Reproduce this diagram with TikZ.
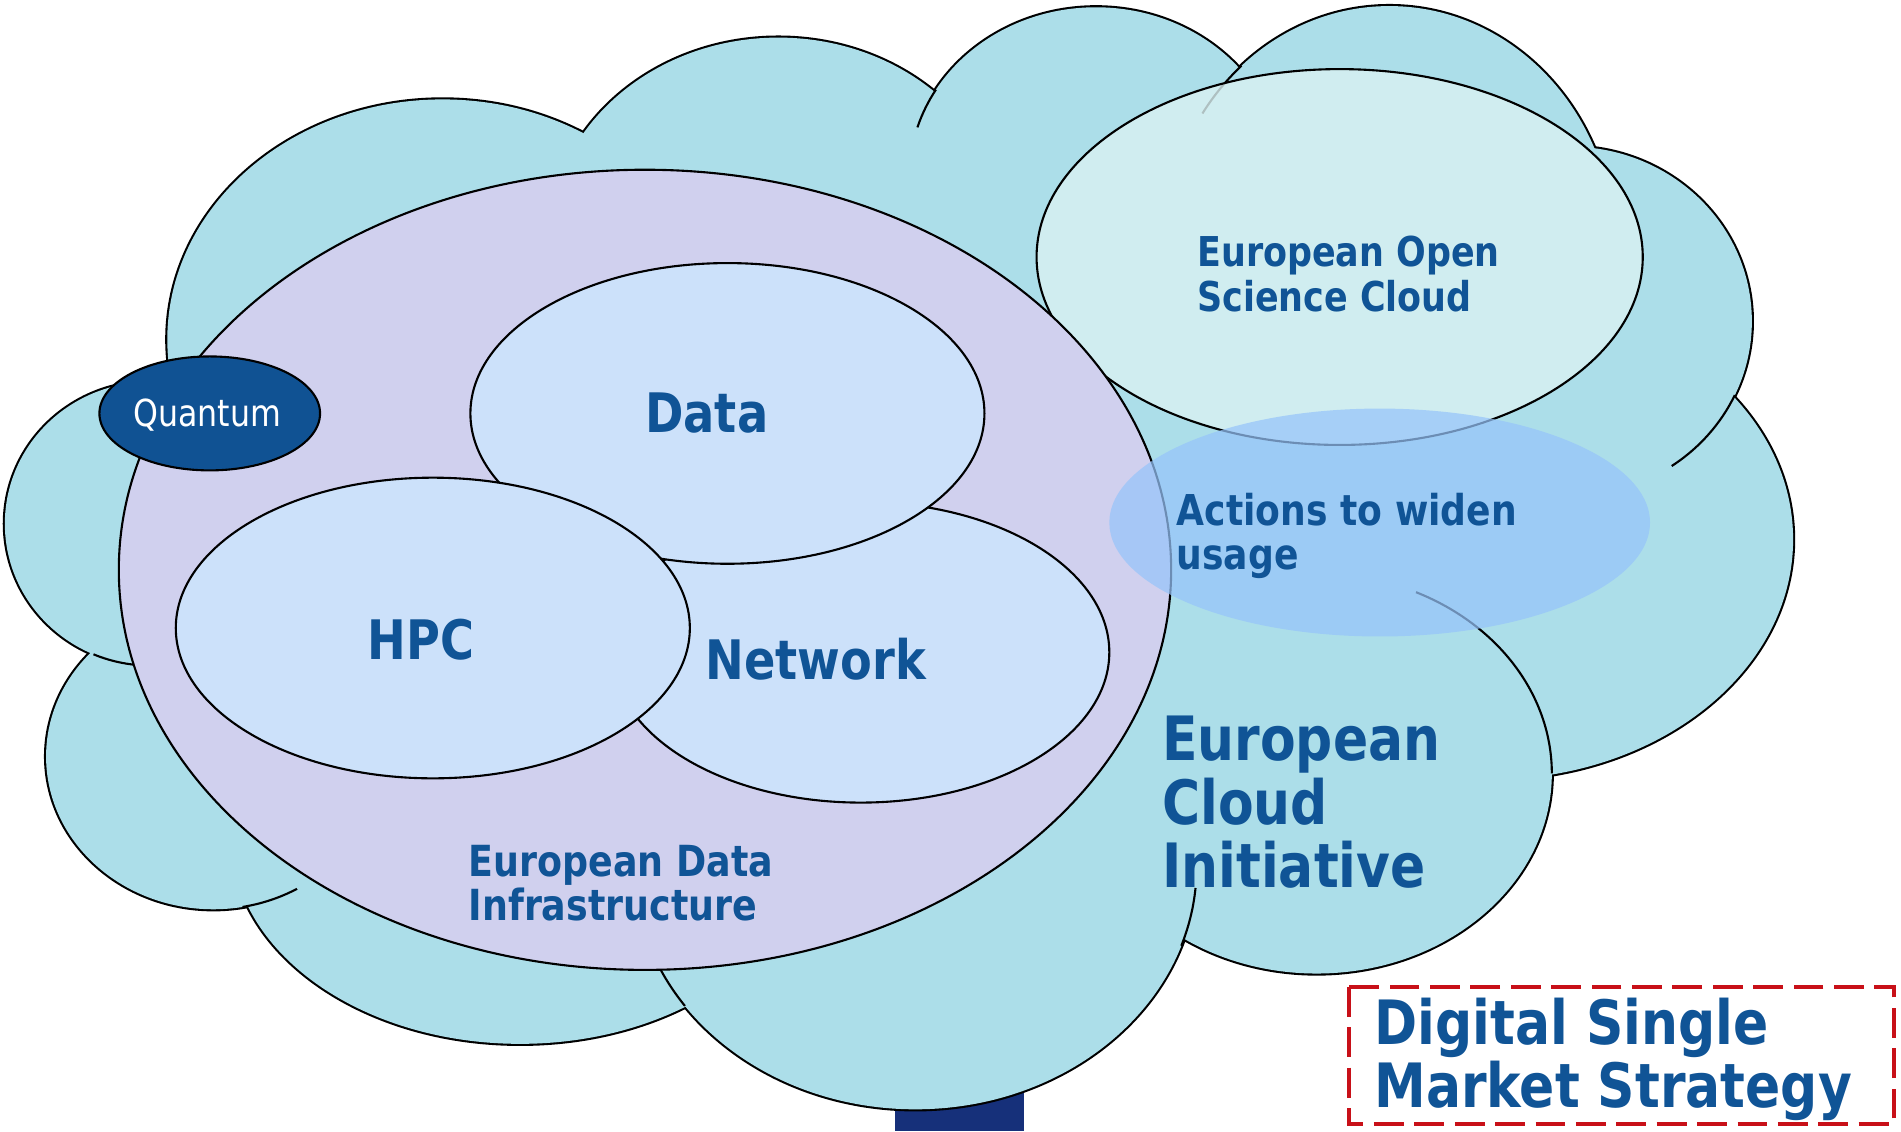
\documentclass[tikz,border=0pt]{standalone}
\usepackage{fontspec}
\setmainfont{DejaVu Sans}
\newfontfamily\tahoma[FakeStretch=0.85]{DejaVu Sans}
\usepackage{tikz}
\definecolor{cloudfill}{RGB}{172,222,233}
\definecolor{edifill}{RGB}{208,208,238}
\definecolor{partfill}{RGB}{204,225,250}
\definecolor{quantumfill}{RGB}{16,82,147}
\definecolor{eoscfill}{RGB}{218,241,242}
\definecolor{actionfill}{RGB}{150,196,250}
\definecolor{textblue}{RGB}{16,84,150}
\definecolor{navy}{RGB}{22,48,122}
\definecolor{dsmred}{RGB}{200,16,24}
\tikzset{
  rim/.style={draw=black, line width=0.6pt},
  part/.style={rim, fill=partfill},
  blocktext/.style={inner sep=0pt, anchor=north west, align=left, text=textblue},
  bigword/.style={inner sep=0pt, text=textblue, font=\tahoma\bfseries\fontsize{15.5}{18}\selectfont},
}

\begin{document}
\begin{tikzpicture}[x=0.012124cm, y=-0.012124cm]
    \useasboundingbox (0,0) rectangle (1568,933);

    \fill[navy] (738,880) rectangle (845,933);

    % cloud: outlines first, then the fill covers the inner parts
    \foreach \cx/\cy/\rx/\ry in {124/432/120/117, 176/624/138/126, 429/691/238/170,
        755/715/232/200, 1086/638/194/165, 1229/445/250/198, 1295/265/150/144,
        1146/206/186/201, 904/146/154/140, 642/200/190/169, 365/280/227/198}
      \draw[line width=1.2pt] (\cx,\cy) ellipse [x radius=\rx, y radius=\ry];
    \foreach \cx/\cy/\rx/\ry in {124/432/120/117, 176/624/138/126, 429/691/238/170,
        755/715/232/200, 1086/638/194/165, 1229/445/250/198, 1295/265/150/144,
        1146/206/186/201, 904/146/154/140, 642/200/190/169, 365/280/227/198,
        760/430/450/300}
      \fill[cloudfill] (\cx,\cy) ellipse [x radius=\rx, y radius=\ry];
    \draw[rim] (904,146) ++(211:154 and 140) arc[start angle=211, end angle=197, x radius=154, y radius=140];
    \draw[rim] (1146,206) ++(229:186 and 201) arc[start angle=229, end angle=214, x radius=186, y radius=201];
    \draw[rim] (1295,265) ++(25:150 and 144) arc[start angle=25, end angle=56, x radius=150, y radius=144];
    \draw[rim] (1086,638) ++(-65:194 and 165) arc[start angle=-65, end angle=0, x radius=194, y radius=165];
    \draw[rim] (755,715) ++(19:232 and 200) arc[start angle=19, end angle=5, x radius=232, y radius=200];
    \draw[rim] (755,715) ++(145:232 and 200) arc[start angle=145, end angle=156, x radius=232, y radius=200];
    \draw[rim] (176,624) ++(80:138 and 126) arc[start angle=80, end angle=60, x radius=138, y radius=126];
    \draw[rim] (124,432) ++(113:120 and 117) arc[start angle=113, end angle=95, x radius=120, y radius=117];

    \draw[rim, fill=eoscfill, fill opacity=0.8] (1105,212) ellipse [x radius=250, y radius=155];
    \draw[rim, fill=edifill] (532,470) ellipse [x radius=434, y radius=330];
    \draw[part] (710,538) ellipse [x radius=205, y radius=124];
    \draw[part] (600,341) ellipse [x radius=212, y radius=124];
    \draw[part] (357,518) ellipse [x radius=212, y radius=124];
    \draw[rim, fill=quantumfill] (173,341) ellipse [x radius=91, y radius=47];
    \fill[actionfill, opacity=0.72] (1138,431) ellipse [x radius=223, y radius=94];

    \node[bigword] (data) at (583,341) {Data};
    \node[bigword] (hpc) at (347,528) {HPC};
    \node[bigword] (network) at (673,544) {Network};
    \node[inner sep=0pt, text=white, font=\tahoma\fontsize{10.6}{12}\selectfont] (quantum) at (171,342) {Quantum};

    \node[blocktext, font=\tahoma\bfseries\fontsize{11.7}{12.7}\selectfont] (eosc) at (987,194) {European Open\\Science Cloud};
    \node[blocktext, font=\tahoma\bfseries\fontsize{12.1}{12.7}\selectfont] (actions) at (970,406) {Actions to widen\\usage};
    \node[blocktext, font=\tahoma\bfseries\fontsize{12.2}{12.4}\selectfont] (edi) at (386,697) {European Data\\Infrastructure};
    \node[blocktext, font=\tahoma\bfseries\fontsize{17.4}{18.1}\selectfont] (eci) at (958,590) {European\\Cloud\\Initiative};

    \draw[dsmred, line width=1.1pt, dash pattern=on 8.5pt off 3pt] (1113,814) rectangle (1562,927);
    \node[blocktext, font=\tahoma\bfseries\fontsize{17.4}{17.9}\selectfont] (dsm) at (1133,823) {Digital Single\\Market Strategy};
\end{tikzpicture}
\end{document}
